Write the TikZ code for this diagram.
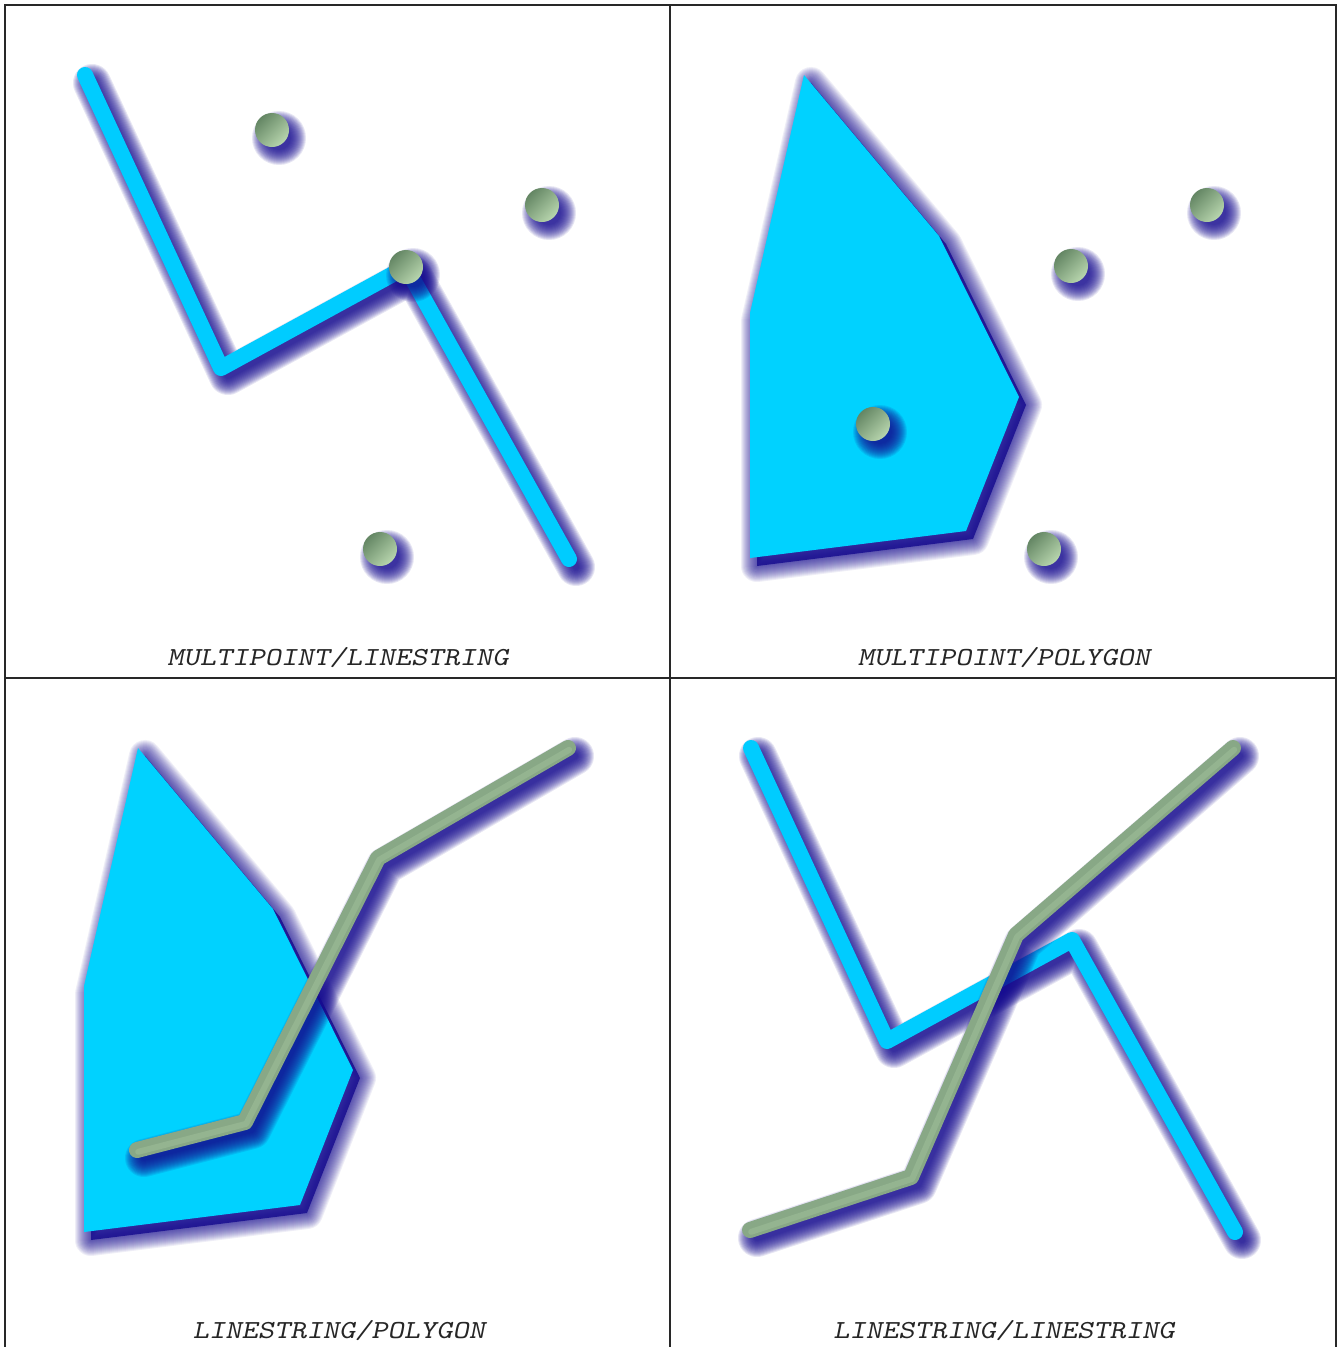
\documentclass[tikz,border=0pt]{standalone}
\usepackage{fontspec}
\definecolor{cyanline}{RGB}{0,204,255}
\definecolor{cyanfill}{RGB}{0,210,255}
\definecolor{shblue}{RGB}{22,12,145}
\definecolor{greenline}{RGB}{136,168,134}
\definecolor{greenhi}{RGB}{160,192,154}
\definecolor{balldark}{RGB}{100,134,100}
\definecolor{balllight}{RGB}{184,214,174}
\definecolor{framecol}{RGB}{40,40,40}
\tikzset{
  lbl/.style={anchor=base, inner sep=0pt, text=black!85,
    font=\ttfamily\slshape\fontsize{19.5}{24}\selectfont},
  frameline/.style={draw=framecol, line width=0.8pt},
  shsoft/.style={shblue, opacity=0.10, line cap=round, line join=round},
  shpoly/.style={shblue, opacity=0.065, line cap=round, line join=round},
}
\newcommand\lab[1]{\scalebox{1.19}[1]{#1}}
% shadow + stroke for a linestring: #1 colour, #2 path
\newcommand\geoline[2]{%
  \begin{scope}[shift={(7,8)}]
    \foreach \e in {-10,-8,...,22}{%
      \pgfmathsetmacro\lw{(16+\e)*0.75}
      \draw[shsoft, line width=\lw pt] #2;}
  \end{scope}
  \draw[#1, line width=12pt, line cap=round, line join=round] #2;
}
\newcommand\geogreen[1]{%
  \geoline{greenline}{#1}
  \begin{scope}[shift={(1.2,1.8)}]
    \draw[greenhi, opacity=0.5, line width=4.5pt, line cap=round, line join=round] #1;
  \end{scope}
}
% shadow + fill for a polygon
\newcommand\geopoly[1]{%
  \begin{scope}[shift={(7,8)}]
    \fill[shblue, opacity=0.8] #1;
    \foreach \e in {2,4,...,32}{%
      \pgfmathsetmacro\lw{\e*0.75}
      \draw[shpoly, line width=\lw pt] #1;}
  \end{scope}
  \fill[cyanfill] #1;
}
% shaded point with shadow
\newcommand\geopt[1]{%
  \begin{scope}[shift={(7,8)}]
    \foreach \e in {-5,-4,...,10}{%
      \pgfmathsetmacro\rr{(17+\e)*0.75}
      \fill[shsoft] #1 circle (\rr pt);}
  \end{scope}
  \shade[top color=balldark, bottom color=balllight, shading angle=45] #1 circle (12.75pt);
}
\begin{document}
\begin{tikzpicture}[x=0.75pt,y=-0.75pt]
\fill[white] (0,0) rectangle (1343,1347);
\useasboundingbox (0,0) rectangle (1343,1347);

% ---------- panel 1: MULTIPOINT / LINESTRING
\geoline{cyanline}{(85,75) -- (221,368) -- (406,267) -- (569,559)}
\geopt{(272,130)}
\geopt{(542,205)}
\geopt{(406,267)}
\geopt{(380,549)}
\node[lbl] (lab1) at (338,665) {\lab{MULTIPOINT/LINESTRING}};

% ---------- panel 2: MULTIPOINT / POLYGON
\geopoly{(804,75) -- (939,236) -- (1019,397) -- (966,531) -- (750,558) -- (750,313) -- cycle}
\geopt{(1207,205)}
\geopt{(1071,266)}
\geopt{(873,424)}
\geopt{(1044,549)}
\node[lbl] (lab2) at (1004,665) {\lab{MULTIPOINT/POLYGON}};

% ---------- panel 3: LINESTRING / POLYGON
\geopoly{(138,748) -- (273,909) -- (353,1070) -- (300,1205) -- (84,1232) -- (84,986) -- cycle}
\geogreen{(137,1150) -- (245,1122) -- (378,858) -- (568,748)}
\node[lbl] (lab3) at (339,1338) {\lab{LINESTRING/POLYGON}};

% ---------- panel 4: LINESTRING / LINESTRING
\geoline{cyanline}{(751,748) -- (887,1041) -- (1072,940) -- (1235,1232)}
\geogreen{(750,1230) -- (911,1177) -- (1016,935) -- (1233,748)}
\node[lbl] (lab4) at (1004,1338) {\lab{LINESTRING/LINESTRING}};

% ---------- frame
\draw[frameline] (5,1360) -- (5,5) -- (1336,5) -- (1336,1360);
\draw[frameline] (670,5) -- (670,1360);
\draw[frameline] (5,678) -- (1336,678);
\end{tikzpicture}
\end{document}
